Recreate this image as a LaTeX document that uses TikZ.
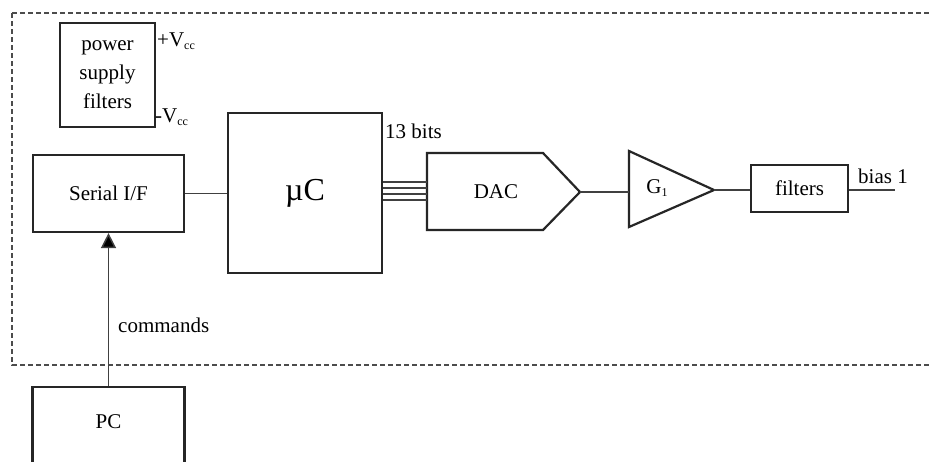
\documentclass[tikz,border=0pt]{standalone}
\usepackage{fontspec}
\setmainfont{Liberation Serif}
\usetikzlibrary{arrows.meta}
\begin{document}
\begin{tikzpicture}[x=1pt,y=-1pt,
  box/.style={draw=black!85, line width=2.2pt, minimum width=#1, inner sep=0pt},
  wire/.style={draw=black!75, line width=1.5pt},
  lbl/.style={inner sep=0pt, font=\fontsize{21}{28}\selectfont}]
\useasboundingbox (0,0) rectangle (929,461);
\clip (0,0) rectangle (929,461);
\fill[white] (0,0) rectangle (929,461);
\newcommand{\subsz}[1]{\raisebox{-0.35ex}{\fontsize{12}{12}\selectfont #1}}
% dashed enclosure
\draw[black!70, line width=1.6pt, dash pattern=on 5pt off 3pt] (12,13) -- (940,13) (12,13) -- (12,365) -- (940,365);
% power supply filters
\node[box=95, minimum height=104, align=center, font=\fontsize{21}{29}\selectfont] (psf) at (107.5,75) {power\\supply\\filters};
\node[lbl, anchor=base west] (vccp) at (157,46) {+V\subsz{cc}};
\node[lbl, anchor=base west] (vccm) at (155,122) {-V\subsz{cc}};
% Serial I/F
\node[box=151, minimum height=77, lbl] (sif) at (108.5,193.5) {Serial I/F};
% uC
\node[box=154, minimum height=160, font=\fontsize{32}{36}\selectfont] (uc) at (305,193) {µC};
\node[lbl, anchor=base west] (bits) at (385,138) {13 bits};
% DAC
\coordinate (dacnw) at (427,153);
\coordinate (dacsw) at (427,230);
\coordinate (dacne) at (543,153);
\coordinate (dacse) at (543,230);
\coordinate (dactip) at (580,192);
\draw[black!85, line width=2.2pt, line join=miter] (dacnw) -- (dacne) -- (dactip) -- (dacse) -- (dacsw) -- cycle;
\node[lbl] (dac) at (496,192) {DAC};
% bus
\foreach \yy in {182,188,194,200}{
  \draw[wire, line width=1.4pt] (uc.east |- 0,\yy) -- (dacnw |- 0,\yy);
}
% G1 amplifier
\coordinate (gt) at (629,151);
\coordinate (gb) at (629,227);
\coordinate (gtip) at (714,190);
\draw[black!85, line width=2.2pt, line join=miter] (gt) -- (gtip) -- (gb) -- cycle;
\node[lbl] (g1) at (657,188) {G\subsz{1}};
\draw[wire] (dactip) -- (gt |- dactip);
% filters
\node[box=97, minimum height=47, lbl] (filt) at (799.5,188.5) {filters};
\draw[wire] (gtip) -- (filt.west |- gtip);
\coordinate (biasend) at (895,190);
\draw[wire, line width=2.2pt] (filt.east |- biasend) -- (biasend);
\node[lbl, anchor=base west] (bias) at (858,183) {bias 1};
% connections
\draw[wire] (sif.east) -- (uc.west |- sif.east);
% PC
\node[box=152, minimum height=100, anchor=north] (pc) at (108.5,386) {};
\node[lbl] (pclbl) at (108.5,422) {PC};
\draw[wire, -{Triangle[length=15pt,width=15pt,fill=black]}] (pc.north) -- (sif.south);
\node[lbl, anchor=base west] (cmd) at (118,332) {commands};
\end{tikzpicture}
\end{document}
